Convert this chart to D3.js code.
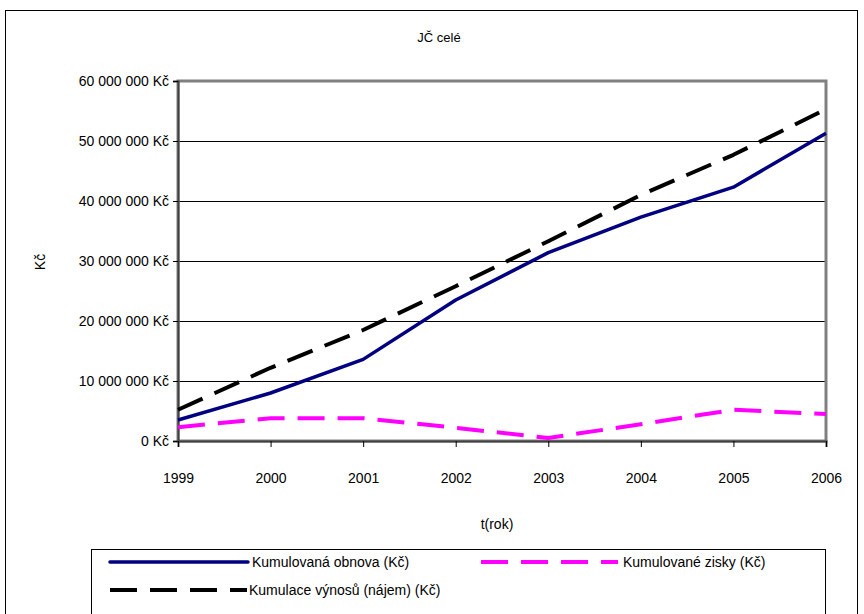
<!DOCTYPE html>
<html>
<head>
<meta charset="utf-8">
<script src="https://cdn.jsdelivr.net/npm/d3@7"></script>
<style>
  html, body { margin: 0; padding: 0; background: #fff; }
  svg { display: block; font-family: "Liberation Sans", Arial, sans-serif; }
</style>
</head>
<body>
<svg id="chart" width="864" height="614"></svg>
<script>
// Years on the horizontal axis
const years = ["1999", "2000", "2001", "2002", "2003", "2004", "2005", "2006"];

// Cumulative values in CZK
const obnova = [3.5e6, 8.0e6, 13.6e6, 23.5e6, 31.4e6, 37.3e6, 42.3e6, 51.3e6];
const vynosy = [5.2e6, 12.2e6, 18.5e6, 25.8e6, 33.3e6, 41.0e6, 47.7e6, 55.3e6];
const zisky  = [2.3e6, 3.8e6, 3.8e6, 2.2e6, 0.5e6, 2.8e6, 5.2e6, 4.5e6];

// Value axis ticks
const yTicks = [0, 10e6, 20e6, 30e6, 40e6, 50e6, 60e6];

const seriesNames = ["Kumulovaná obnova (Kč)", "Kumulované zisky (Kč)", "Kumulace výnosů (nájem) (Kč)"];

const svg = d3.select("#chart");

// outer frame
svg.append("rect")
  .attr("x", 5.5).attr("y", 10.5).attr("width", 852).attr("height", 620)
  .attr("fill", "none").attr("stroke", "#000").attr("stroke-width", 1);

const plotL = 178, plotR = 826, plotT = 81, plotB = 441;

const x = d3.scalePoint().domain(years).range([plotL, plotR]);
const y = d3.scaleLinear().domain([0, 60e6]).range([plotB, plotT]);

const locale = d3.formatLocale({ decimal: ",", thousands: " ", grouping: [3], currency: ["", " Kč"] });
const fmt = locale.format("$,.0f");

// title
svg.append("text")
  .attr("x", 439).attr("y", 42)
  .attr("text-anchor", "middle").attr("font-size", 13)
  .text("JČ celé");

// horizontal gridlines
svg.append("g")
  .selectAll("line")
  .data(yTicks.filter(d => d > 0 && d < 60e6))
  .join("line")
  .attr("x1", plotL).attr("x2", plotR)
  .attr("y1", d => Math.round(y(d)) + 0.5).attr("y2", d => Math.round(y(d)) + 0.5)
  .attr("stroke", "#000").attr("stroke-width", 1);

// plot area frame
svg.append("rect")
  .attr("x", plotL).attr("y", plotT).attr("width", plotR - plotL).attr("height", plotB - plotT)
  .attr("fill", "none").attr("stroke", "#808080").attr("stroke-width", 3);

// y axis
const yAxis = d3.axisLeft(y).tickValues(yTicks).tickFormat(fmt).tickSize(5).tickPadding(4);
const gy = svg.append("g").attr("transform", `translate(${plotL},0)`).call(yAxis);
gy.select(".domain").attr("stroke", "#404040").attr("stroke-width", 2);
gy.selectAll(".tick line").attr("stroke", "#000");
gy.selectAll(".tick text").attr("font-size", 14).attr("fill", "#000")
  .attr("font-family", "Liberation Sans, Arial, sans-serif");

// x axis
const xAxis = d3.axisBottom(x).tickSize(6).tickPadding(26);
const gx = svg.append("g").attr("transform", `translate(0,${plotB})`).call(xAxis);
gx.select(".domain").attr("stroke", "#404040").attr("stroke-width", 2);
gx.selectAll(".tick line").attr("stroke", "#000");
gx.selectAll(".tick text").attr("font-size", 14).attr("fill", "#000")
  .attr("font-family", "Liberation Sans, Arial, sans-serif");

// axis titles
svg.append("text")
  .attr("transform", "translate(45,262) rotate(-90)")
  .attr("text-anchor", "middle").attr("font-size", 14)
  .text("Kč");
svg.append("text")
  .attr("x", 497).attr("y", 529)
  .attr("text-anchor", "middle").attr("font-size", 14)
  .text("t(rok)");

// series
const line = d3.line().x((d, i) => x(years[i])).y(d => y(d));
const styles = [
  { data: obnova, color: "#000080", dash: null, width: 3.5 },
  { data: zisky, color: "#ff00ff", dash: "27,13", width: 4 },
  { data: vynosy, color: "#000000", dash: "27,13", width: 4 }
];
// draw order: magenta, blue, black
[1, 0, 2].forEach(k => {
  const s = styles[k];
  svg.append("path")
    .datum(s.data)
    .attr("d", line)
    .attr("fill", "none")
    .attr("stroke", s.color)
    .attr("stroke-width", s.width)
    .attr("stroke-dasharray", s.dash)
    .attr("stroke-linejoin", "round");
});

// legend
svg.append("rect")
  .attr("x", 91.5).attr("y", 549.5).attr("width", 734).attr("height", 80)
  .attr("fill", "#fff").attr("stroke", "#000").attr("stroke-width", 1);

const legendPos = [
  { x1: 110, x2: 248, y: 562, tx: 252 },
  { x1: 481, x2: 618, y: 562, tx: 623 },
  { x1: 110, x2: 247, y: 590, tx: 249 }
];
legendPos.forEach((p, k) => {
  const s = styles[k];
  svg.append("line")
    .attr("x1", p.x1).attr("x2", p.x2).attr("y1", p.y).attr("y2", p.y)
    .attr("stroke", s.color).attr("stroke-width", s.width)
    .attr("stroke-dasharray", s.dash)
    .attr("stroke-linecap", s.dash ? "butt" : "round");
  svg.append("text")
    .attr("x", p.tx).attr("y", p.y + 5)
    .attr("font-size", 14)
    .text(seriesNames[k]);
});
</script>
</body>
</html>
